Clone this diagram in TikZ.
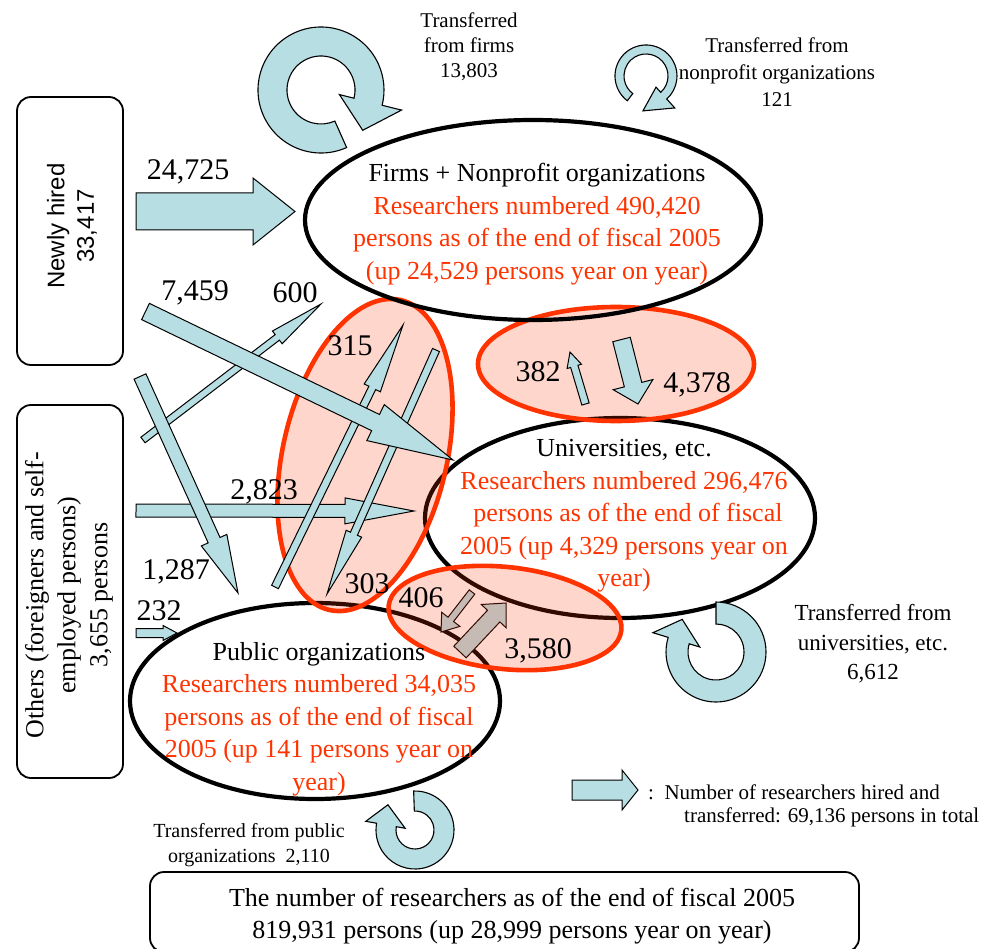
\documentclass[tikz,border=0pt]{standalone}
\usepackage{fontspec}
\setmainfont{Liberation Serif}
\newfontfamily\sansfnt{Liberation Sans}
\usetikzlibrary{calc}
\definecolor{ablue}{RGB}{183,222,226}
\definecolor{ared}{RGB}{255,51,0}
% block arrow: #1 tail, #2 tip, #3 half body width, #4 half head width, #5 head length
\newcommand\blockarrow[5]{%
  \coordinate (bah) at ($(#2)!#5pt!(#1)$);
  \draw[blk] ($(#1)!#3pt!90:(#2)$) -- ($(bah)!#3pt!-90:(#1)$) -- ($(bah)!#4pt!-90:(#1)$)
    -- (#2) -- ($(bah)!#4pt!90:(#1)$) -- ($(bah)!#3pt!90:(#1)$) -- ($(#1)!#3pt!-90:(#2)$) -- cycle;
}
% ring arrow: #1 centre, #2 r in, #3 r out, #4 start, #5 end, #6 head in r, #7 head out r, #8 tip angle, #9 tip r
\newcommand\ringarrow[9]{%
  \draw[ringstyle] ($(#1)+(#4:#3)$) arc[start angle=#4, end angle=#5, radius=#3]
    -- ($(#1)+(#5:#7)$) -- ($(#1)+(#8:#9)$) -- ($(#1)+(#5:#6)$) -- ($(#1)+(#5:#2)$)
    arc[start angle=#5, end angle=#4, radius=#2] -- cycle;
}
\begin{document}
\begin{tikzpicture}[x=1pt,y=-1pt,
  blk/.style={draw=black,line width=1pt,fill=ablue,line join=miter},
  ringstyle/.style={draw=black,line width=1.1pt,fill=ablue},
  bigell/.style={draw=black,line width=4.2pt},
  redell/.style={draw=ared,line width=4.6pt,fill=ared,fill opacity=0.2},
  numlbl/.style={inner sep=0pt,font=\fontsize{30}{34}\selectfont},
  elltext/.style={inner sep=0pt,align=center,font=\fontsize{26}{32.5}\selectfont},
  roundbox/.style={draw=black,line width=1.8pt,rounded corners=14pt,inner sep=0pt},
  smalltext/.style={inner sep=0pt,align=center,font=\fontsize{21}{25}\selectfont}]
\useasboundingbox (0,0) rectangle (984,949);

% ---------- coordinates ----------
\coordinate (firmsC) at (533,220);
\coordinate (univC) at (620,518);
\coordinate (pubC) at (315,701);
\coordinate (redA) at (365,455);
\coordinate (redB) at (616,364);
\coordinate (redC) at (505,618);

% ---------- big black ellipses (universities, public) ----------
\draw[bigell] (univC) ellipse[x radius=195, y radius=100];
\draw[bigell] (pubC) ellipse[x radius=185, y radius=98];

% ---------- arrows beneath the lower red ellipse ----------
\coordinate (t406) at (472,592);  \coordinate (h406) at (441,632);
\blockarrow{t406}{h406}{3.5}{11.5}{16}
\coordinate (t3580) at (460,652); \coordinate (h3580) at (506,603);
\blockarrow{t3580}{h3580}{8.5}{17}{18}

% ---------- red exchange ellipses ----------
\draw[redell, rotate around={-13:(redA)}] (redA) ellipse[x radius=82, y radius=159];
\draw[redell] (redB) ellipse[x radius=138, y radius=57];
\draw[redell, rotate around={-6:(redC)}] (redC) ellipse[x radius=117, y radius=51];

% firms ellipse on top
\draw[bigell] (firmsC) ellipse[x radius=228, y radius=100];

% ---------- ring arrows ----------
\coordinate (ringF) at (321,90);
\ringarrow{ringF}{34}{63}{66}{374}{19}{83}{404}{58}
\coordinate (ringN) at (646,76);
\ringarrow{ringN}{22}{31}{127}{408}{15}{43}{455}{35}
\coordinate (ringU) at (716,652);
\ringarrow{ringU}{28}{50}{270}{557}{17}{66}{584}{47}
\coordinate (ringP) at (415,830);
\ringarrow{ringP}{19}{39}{268}{550}{10}{50}{583}{37}

% ---------- straight block arrows ----------
\coordinate (t24725) at (136,211.5); \coordinate (h24725) at (295,211.5);
\blockarrow{t24725}{h24725}{18.5}{33.5}{42}
\coordinate (t600) at (143,440);   \coordinate (h600) at (321,304);
\blockarrow{t600}{h600}{3.5}{8}{55}
\coordinate (t2823) at (136,510.5); \coordinate (h2823) at (414,511);
\blockarrow{t2823}{h2823}{6.5}{13}{69}
\coordinate (t315) at (275,587);   \coordinate (h315) at (403,325);
\blockarrow{t315}{h315}{3.8}{9}{70}
\coordinate (t303) at (436,350);   \coordinate (h303) at (327,594);
\blockarrow{t303}{h303}{3.8}{8.5}{66}
\coordinate (t7459) at (145.5,311.5); \coordinate (h7459) at (453,460);
\blockarrow{t7459}{h7459}{9}{20}{86}
\coordinate (t1287) at (140,376.5); \coordinate (h1287) at (238,593);
\blockarrow{t1287}{h1287}{6.5}{14}{58}
\coordinate (t232) at (136,633);   \coordinate (h232) at (177,633);
\blockarrow{t232}{h232}{4.5}{7.5}{14}
\coordinate (t382) at (585.5,404); \coordinate (h382) at (570,352);
\blockarrow{t382}{h382}{3.8}{7.5}{15}
\coordinate (t4378) at (621.5,339.5); \coordinate (h4378) at (638,404);
\blockarrow{t4378}{h4378}{9}{20.5}{20}
\coordinate (tleg) at (572,790);   \coordinate (hleg) at (638,790);
\blockarrow{tleg}{hleg}{10}{20}{16}

% ---------- boxes ----------
\node[roundbox, rotate=90, minimum width=268pt, minimum height=106pt] (newbox) at (70,231) {};
\node[inner sep=0pt, rotate=90, align=center, font=\sansfnt\fontsize{24}{29.5}\selectfont] (newtxt) at (72,226) {Newly hired\\33,417};
\node[roundbox, rotate=90, minimum width=373pt, minimum height=106pt] (othbox) at (70,591.5) {};
\node[inner sep=0pt, rotate=90, align=center, font=\fontsize{26}{32}\selectfont] (othtxt) at (69,595) {Others (foreigners and self-\\employed persons)\\3,655 persons};
\node[roundbox, minimum width=709pt, minimum height=80pt] (totbox) at (504.5,912) {};
\node[inner sep=0pt, align=center, font=\fontsize{26}{32}\selectfont] (tottxt) at (512,916) {The number of researchers as of the end of fiscal 2005\\819,931 persons (up 28,999 persons year on year)};

% ---------- ellipse texts ----------
\node[elltext] (firmstxt) at (537,224) {Firms + Nonprofit organizations\\
  \textcolor{ared}{Researchers numbered 490,420}\\
  \textcolor{ared}{persons as of the end of fiscal 2005}\\
  \textcolor{ared}{(up 24,529 persons year on year)}};
\node[elltext] (univtxt) at (624,516) {Universities, etc.\\
  \textcolor{ared}{Researchers numbered 296,476}\\
  \textcolor{ared}{\hspace*{8pt}persons as of the end of fiscal}\\
  \textcolor{ared}{2005 (up 4,329 persons year on}\\
  \textcolor{ared}{year)}};
\node[elltext] (pubtxt) at (319,719) {Public organizations\\
  \textcolor{ared}{Researchers numbered 34,035}\\
  \textcolor{ared}{persons as of the end of fiscal}\\
  \textcolor{ared}{2005 (up 141 persons year on}\\
  \textcolor{ared}{year)}};

% ---------- transfer labels ----------
\node[smalltext] (trF) at (469,47) {Transferred\\from firms\\13,803};
\node[smalltext, font=\fontsize{21}{27}\selectfont] (trN) at (777,72) {Transferred from\\nonprofit organizations\\121};
\node[smalltext, font=\fontsize{23}{29.5}\selectfont] (trU) at (873,644) {Transferred from\\universities, etc.\\6,612};
\node[smalltext, font=\fontsize{20}{25}\selectfont] (trP) at (249,845) {Transferred from public\\organizations\ \ 2,110};
\node[smalltext, align=left, anchor=west, font=\fontsize{21}{23}\selectfont] (legtxt) at (648,806) {:\ \ Number of researchers hired and\\\hspace*{36pt}transferred: 69,136 persons in total};

% ---------- number labels ----------
\node[numlbl] (n24725) at (188,172) {24,725};
\node[numlbl] (n7459) at (195,293) {7,459};
\node[numlbl] (n600) at (295,293) {600};
\node[numlbl] (n315) at (350,346) {315};
\node[numlbl] (n382) at (538,372) {382};
\node[numlbl] (n4378) at (697,385) {4,378};
\node[numlbl] (n2823) at (264,492) {2,823};
\node[numlbl] (n303) at (367,584) {303};
\node[numlbl] (n406) at (421,598) {406};
\node[numlbl] (n3580) at (538,651) {3,580};
\node[numlbl] (n1287) at (176,572) {1,287};
\node[numlbl] (n232) at (159,611) {232};
\end{tikzpicture}
\end{document}
